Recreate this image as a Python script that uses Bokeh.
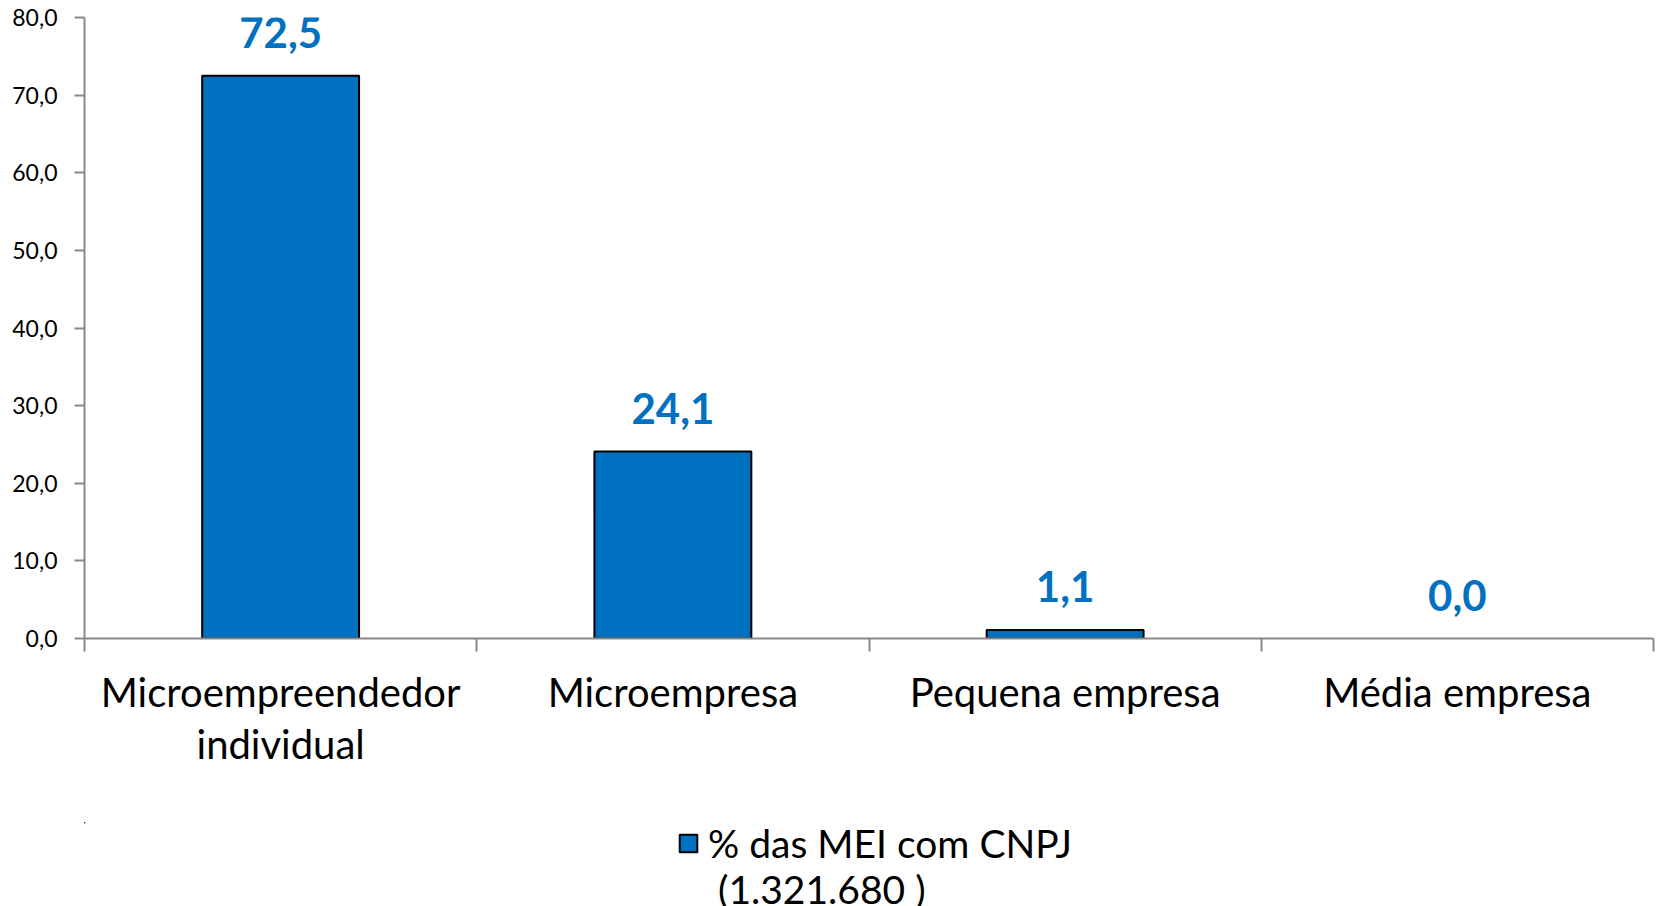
from bokeh.plotting import figure
from bokeh.models import Range1d, FixedTicker, Legend, LegendItem, ColumnDataSource, BoxAnnotation
from bokeh.layouts import column
from bokeh.core.properties import value
from bokeh.embed import file_html
from bokeh.resources import INLINE

categories = ["Microempreendedor\nindividual", "Microempresa", "Pequena empresa", "Média empresa"]
values = [72.5, 24.1, 1.1, 0.0]
value_labels = ["72,5", "24,1", "1,1", "0,0"]
y_ticks = [0, 10, 20, 30, 40, 50, 60, 70, 80]
y_tick_labels = ["0,0", "10,0", "20,0", "30,0", "40,0", "50,0", "60,0", "70,0", "80,0"]
series_name = ["% das MEI com CNPJ", " (1.321.680 )"]

FONT = "Lato"
BLUE = "#0070C0"
GRAY = "#898989"

x_pos = [i + 0.5 for i in range(len(categories))]
outline_alpha = [1.0 if v > 0 else 0.0 for v in values]
src = ColumnDataSource(dict(x=x_pos, top=values, lab=value_labels, la=outline_alpha))

p = figure(width=1660, height=822, output_backend="svg", toolbar_location=None,
           x_range=Range1d(0, len(categories)), y_range=Range1d(0, 80),
           min_border_left=84, min_border_top=17, min_border_right=7, min_border_bottom=184)
p.outline_line_color = None
p.xgrid.visible = False
p.ygrid.visible = False

p.vbar(x="x", top="top", width=0.4, source=src, fill_color=BLUE,
       line_color="black", line_alpha="la", line_width=2)
p.text(x="x", y="top", text="lab", source=src, text_align="center",
       text_baseline="alphabetic", y_offset=-43, text_color=BLUE,
       text_font=value(FONT), text_font_style="bold", text_font_size="42px")

# y axis
ya = p.yaxis[0]
ya.ticker = FixedTicker(ticks=y_ticks)
ya.major_label_overrides = {t: l for t, l in zip(y_ticks, y_tick_labels)}
ya.axis_line_color = GRAY
ya.axis_line_width = 2
ya.major_tick_line_color = GRAY
ya.major_tick_line_width = 2
ya.major_tick_out = 10
ya.major_tick_in = 0
ya.minor_tick_line_color = None
ya.major_label_text_font = FONT
ya.major_label_text_font_size = "23px"
ya.major_label_text_color = "black"
ya.major_label_standoff = 17

# x axis
xa = p.xaxis[0]
xa.ticker = FixedTicker(ticks=x_pos, minor_ticks=list(range(len(categories) + 1)))
xa.major_label_overrides = {x: c for x, c in zip(x_pos, categories)}
xa.axis_line_color = GRAY
xa.axis_line_width = 2
xa.major_tick_line_color = None
xa.minor_tick_line_color = GRAY
xa.minor_tick_line_width = 2
xa.minor_tick_out = 13
xa.minor_tick_in = 0
xa.major_label_text_font = FONT
xa.major_label_text_font_size = "40px"
xa.major_label_text_line_height = 1.1
xa.major_label_text_color = "black"
xa.major_label_standoff = 16

# legend strip below the chart (same bar style; its bars are kept out of view)
p2 = figure(width=1660, height=84, output_backend="svg", toolbar_location=None,
            x_range=Range1d(10, 11), y_range=Range1d(-2, -1),
            x_axis_type=None, y_axis_type=None,
            min_border_left=0, min_border_right=0, min_border_top=0, min_border_bottom=0)
p2.outline_line_color = None
p2.xgrid.visible = False
p2.ygrid.visible = False
r1 = p2.vbar(x="x", top="top", width=0.4, source=src, fill_color=BLUE,
             line_color="black", line_width=2)
r2 = p2.vbar(x="x", top="top", width=0.4, source=src, fill_alpha=0, line_alpha=0)

# white cover so that nothing of the off-view bars shows in the strip
p2.add_layout(BoxAnnotation(fill_color="white", fill_alpha=1.0, line_alpha=0))

legend = Legend(items=[LegendItem(label=series_name[0], renderers=[r1]),
                       LegendItem(label=series_name[1], renderers=[r2])],
                location=(593, -6), padding=0, margin=0, spacing=0,
                border_line_color=None, background_fill_alpha=0,
                glyph_width=22, glyph_height=22, label_standoff=9, label_height=20,
                label_text_font=FONT, label_text_font_size="39px",
                label_text_color="black")
p2.add_layout(legend, "center")

open("out.html", "w").write(file_html(column(p, p2, spacing=0), INLINE))
